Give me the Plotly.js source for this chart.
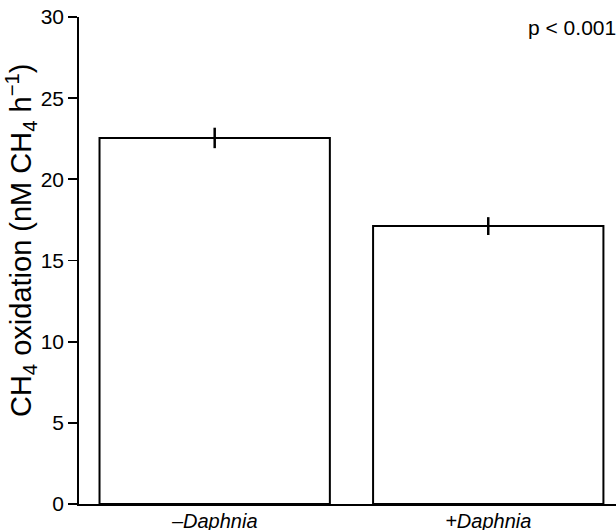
<!DOCTYPE html>
<html>
<head>
<meta charset="utf-8">
<script src="https://cdn.plot.ly/plotly-3.0.1.min.js"></script>
<style>html,body{margin:0;padding:0;background:#fff;}#chart{width:616px;height:530px;}</style>
</head>
<body>
<div id="chart"></div>
<script>
const categories = ["–Daphnia", "+Daphnia"];
const tickLabels = ["<i>–Daphnia</i>", "<i>+Daphnia</i>"];
const oxidation = [22.55, 17.12];
const stdErr = [0.63, 0.55];
const pText = "p < 0.001";

const trace = {
  type: "bar",
  x: categories,
  y: oxidation,
  width: 0.842,
  marker: {color: "#ffffff", line: {color: "#000000", width: 2}},
  error_y: {type: "data", array: stdErr, visible: true, color: "#000000", thickness: 2.5, width: 0},
  hoverinfo: "none"
};

const layout = {
  width: 616, height: 530,
  margin: {l: 79, r: 0, t: 17, b: 26},
  paper_bgcolor: "#ffffff", plot_bgcolor: "#ffffff",
  showlegend: false,
  font: {family: "Liberation Sans, Arial, sans-serif", color: "#000000", size: 20},
  xaxis: {
    range: [-0.496, 1.467],
    tickmode: "array", tickvals: categories, ticktext: tickLabels,
    showline: true, linecolor: "#000", linewidth: 1.8,
    ticks: "", showgrid: false, zeroline: false,
    tickfont: {size: 20}, ticklabelstandoff: -2, fixedrange: true
  },
  yaxis: {
    range: [0, 30],
    tickvals: [0, 5, 10, 15, 20, 25, 30],
    showline: true, linecolor: "#000", linewidth: 1.8,
    ticks: "outside", ticklen: 9, tickwidth: 1.8, tickcolor: "#000",
    showgrid: false, zeroline: false,
    tickfont: {size: 21},
    fixedrange: true
  },
  annotations: [
    {
      text: pText, xref: "paper", yref: "paper", x: 1.003, y: 0.978,
      xanchor: "right", yanchor: "middle", showarrow: false, font: {size: 21}
    },
    {
      text: "CH<sub>4</sub> oxidation (nM CH<sub>4</sub> h<sup>−1</sup>)",
      xref: "paper", yref: "paper", x: -0.108, y: 0.542,
      xanchor: "center", yanchor: "middle", textangle: -90, showarrow: false,
      font: {size: 29}
    }
  ]
};

Plotly.newPlot("chart", [trace], layout, {staticPlot: true, displayModeBar: false});
</script>
</body>
</html>
